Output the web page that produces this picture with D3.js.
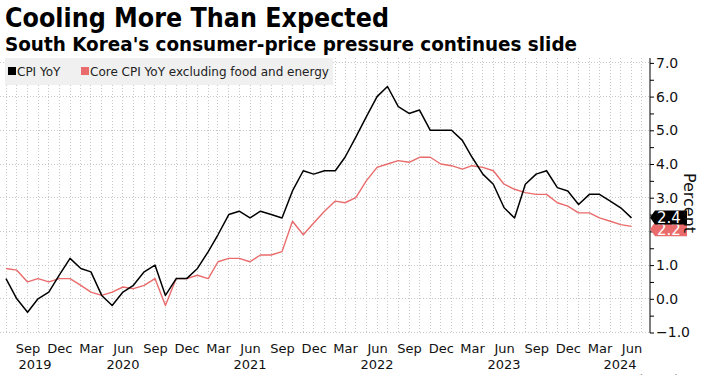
<!DOCTYPE html>
<html>
<head>
<meta charset="utf-8">
<script src="https://cdn.jsdelivr.net/npm/d3@7"></script>
<style>
  html, body { margin: 0; padding: 0; background: #fff; }
  svg { display: block; }
  text { font-family: "DejaVu Sans", sans-serif; }
</style>
</head>
<body>
<div id="chart"></div>
<script>
// monthly data, Jul 2019 .. Jun 2024
var startMonth = new Date(2019, 6, 1);
var cpi = [0.6, 0.0, -0.4, 0.0, 0.2, 0.7,
	1.2, 0.9, 0.8, 0.1, -0.2, 0.2, 0.4, 0.8, 1.0, 0.1, 0.6, 0.6,
	0.9, 1.4, 1.9, 2.5, 2.6, 2.4, 2.6, 2.5, 2.4, 3.2, 3.8, 3.7,
	3.8, 3.8, 4.2, 4.8, 5.4, 6.0, 6.3, 5.7, 5.5, 5.6, 5.0, 5.0,
	5.0, 4.7, 4.2, 3.7, 3.4, 2.7, 2.4, 3.4, 3.7, 3.8, 3.3, 3.2,
	2.8, 3.1, 3.1, 2.9, 2.7, 2.4];
var core = [0.9, 0.85, 0.5, 0.6, 0.5, 0.6,
	0.6, 0.4, 0.2, 0.1, 0.2, 0.35, 0.3, 0.4, 0.6, -0.2, 0.6, 0.6,
	0.7, 0.6, 1.1, 1.2, 1.2, 1.1, 1.3, 1.3, 1.4, 2.3, 1.9, 2.25,
	2.6, 2.9, 2.85, 3.0, 3.5, 3.9, 4.0, 4.1, 4.05, 4.2, 4.2, 4.0,
	3.95, 3.85, 3.95, 3.9, 3.8, 3.4, 3.25, 3.15, 3.1, 3.1, 2.85, 2.75,
	2.55, 2.55, 2.4, 2.3, 2.2, 2.15];
var yTicks = [-1, 0, 1, 2, 3, 4, 5, 6, 7];
var years = [2019, 2020, 2021, 2022, 2023, 2024];
var seriesNames = ['CPI YoY', 'Core CPI YoY excluding food and energy'];
var seriesColors = ['#000000', '#ea6b6b'];
var lastLabels = ['2.4', '2.2'];

(function() {

var W = 709, H = 375;
var plot = { left: 0, right: 650, top: 58, bottom: 333 };

var months = cpi.map(function(d, i) { return d3.timeMonth.offset(startMonth, i); });

var svg = d3.select('#chart').append('svg')
	.attr('width', W)
	.attr('height', H);

var x = d3.scaleTime()
	.domain([months[0], months[months.length - 1]])
	.range([6, 631.5]);
var y = d3.scaleLinear()
	.domain([-1, 7])
	.range([332.5, 62.9]);

// titles
svg.append('text')
	.attr('x', 5).attr('y', 27)
	.attr('font-size', 26).attr('font-weight', 'bold')
	.attr('textLength', 384).attr('lengthAdjust', 'spacingAndGlyphs')
	.text('Cooling More Than Expected');
svg.append('text')
	.attr('x', 5).attr('y', 51)
	.attr('font-size', 20).attr('font-weight', 'bold')
	.attr('textLength', 572).attr('lengthAdjust', 'spacingAndGlyphs')
	.text("South Korea's consumer-price pressure continues slide");

// grid
var grid = svg.append('g').attr('class', 'grid');
var gridMonths = d3.timeMonth.range(d3.timeMonth.offset(months[0], -1), d3.timeMonth.offset(months[months.length - 1], 2))
	.filter(function(d) { return x(d) >= plot.left && x(d) < plot.right; });
grid.selectAll('line.v')
	.data(gridMonths)
	.enter().append('line')
	.attr('x1', function(d) { return x(d); })
	.attr('x2', function(d) { return x(d); })
	.attr('y1', plot.top).attr('y2', plot.bottom);
grid.selectAll('line.h')
	.data(yTicks)
	.enter().append('line')
	.attr('x1', plot.left).attr('x2', plot.right)
	.attr('y1', function(d) { return y(d); })
	.attr('y2', function(d) { return y(d); });
grid.selectAll('line')
	.attr('stroke', '#c8c8c8')
	.attr('stroke-width', 1)
	.attr('stroke-dasharray', '1,2')
	.attr('shape-rendering', 'crispEdges');

// legend
var legend = svg.append('g');
legend.append('rect')
	.attr('x', 5).attr('y', 58).attr('width', 328).attr('height', 27)
	.attr('fill', '#f0f0f0');
var legX = [8, 81];
seriesNames.forEach(function(name, i) {
	legend.append('rect')
		.attr('x', legX[i]).attr('y', 67).attr('width', 8).attr('height', 8)
		.attr('fill', seriesColors[i]);
	legend.append('text')
		.attr('x', legX[i] + 9).attr('y', 76)
		.attr('font-size', 12).attr('fill', '#222')
		.text(name);
});

// lines
var line = d3.line()
	.x(function(d, i) { return x(months[i]); })
	.y(function(d) { return y(d); });
svg.append('path').datum(core)
	.attr('d', line).attr('fill', 'none')
	.attr('stroke', seriesColors[1]).attr('stroke-width', 1.4)
	.attr('stroke-linejoin', 'round');
svg.append('path').datum(cpi)
	.attr('d', line).attr('fill', 'none')
	.attr('stroke', seriesColors[0]).attr('stroke-width', 1.5)
	.attr('stroke-linejoin', 'round');

// right axis
var yAxis = d3.axisRight(y)
	.tickValues(d3.range(-1, 7.01, 0.5))
	.tickSize(4)
	.tickFormat(function(d) { return d % 1 === 0 ? d3.format('.1f')(d) : ''; });
var ax = svg.append('g')
	.attr('transform', 'translate(' + plot.right + ',0)')
	.call(yAxis);
ax.select('.domain').attr('d', 'M0,' + plot.top + 'V' + plot.bottom).attr('stroke', '#000');
ax.selectAll('.tick line').attr('stroke', '#000');
ax.selectAll('.tick text')
	.attr('x', 6)
	.attr('font-size', 14)
	.attr('font-family', '"DejaVu Sans", sans-serif')
	.attr('fill', '#111');

// end labels (red drawn first, black on top)
var tagH = 14;
[1, 0].forEach(function(i) {
	var series = i === 0 ? cpi : core;
	var cy = i === 0 ? y(series[series.length - 1]) - 0.5 : y(series[series.length - 1]) + 3;
	var g = svg.append('g').attr('transform', 'translate(' + plot.right + ',' + cy + ')');
	g.append('path')
		.attr('d', 'M0,0L5,' + (-tagH / 2) + 'H37V' + (tagH / 2) + 'H5Z')
		.attr('fill', seriesColors[i]);
	g.append('text')
		.attr('x', 7).attr('y', 5.5)
		.attr('font-size', 15).attr('fill', '#fff')
		.text(lastLabels[i]);
});

svg.append('text')
	.attr('transform', 'translate(684,' + 203 + ') rotate(90)')
	.attr('text-anchor', 'middle')
	.attr('font-size', 16).attr('fill', '#111')
	.text('Percent');

// bottom axis
var qTicks = months.filter(function(d) { return d.getMonth() % 3 === 2; });
var xAxis = d3.axisBottom(x)
	.tickValues(qTicks)
	.tickSize(0)
	.tickFormat(d3.timeFormat('%b'));
var bx = svg.append('g')
	.attr('transform', 'translate(0,' + plot.bottom + ')')
	.call(xAxis);
bx.select('.domain').remove();
bx.selectAll('.tick text')
	.attr('y', 11)
	.attr('font-size', 13)
	.attr('font-family', '"DejaVu Sans", sans-serif')
	.attr('fill', '#111');

svg.append('g').selectAll('text')
	.data(years)
	.enter().append('text')
	.attr('x', function(d) {
		return Math.max(35, Math.min(620, x(new Date(d, 5, 1))));
	})
	.attr('y', 369)
	.attr('text-anchor', 'middle')
	.attr('font-size', 13)
	.attr('fill', '#111')
	.text(function(d) { return d; });

// source line, cut off at bottom edge as in the original
svg.append('text')
	.attr('x', 706).attr('y', 385)
	.attr('text-anchor', 'end')
	.attr('font-size', 14)
	.attr('fill', '#999')
	.text('Bloomberg');

})();
</script>
</body>
</html>
